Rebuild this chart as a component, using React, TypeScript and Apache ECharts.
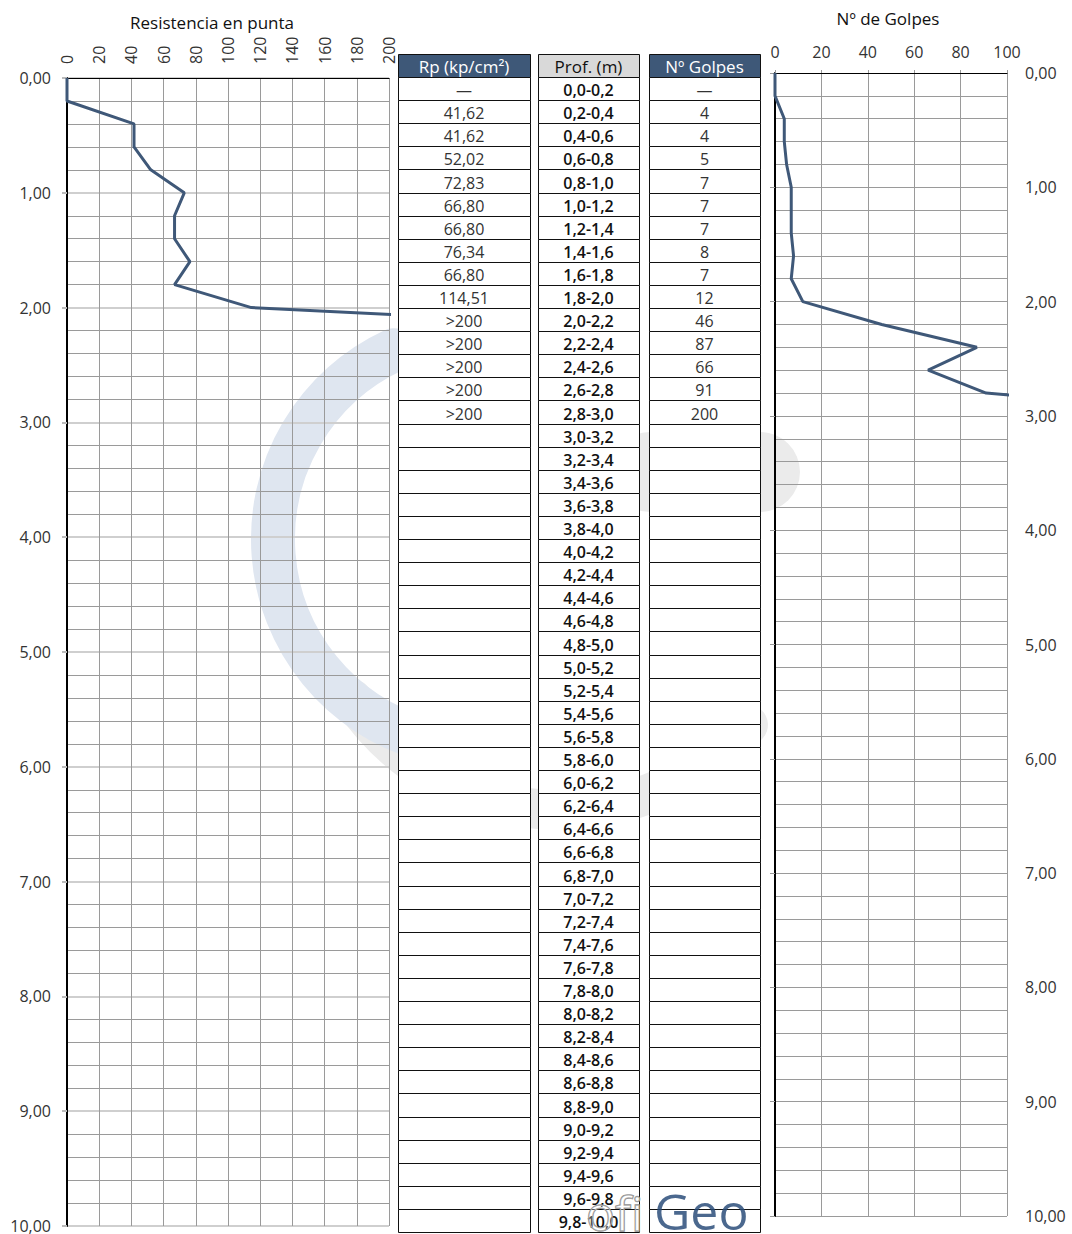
import React, { useEffect, useRef } from "react";
import * as echarts from "echarts";

// ---------- data ----------
const rpDepths = [0, 0.2, 0.4, 0.6, 0.8, 1.0, 1.2, 1.4, 1.6, 1.8, 2.0, 2.2];
const rpPlot = [0, 0, 41.62, 41.62, 52.02, 72.83, 66.8, 66.8, 76.34, 66.8, 114.51, 400];

const golpesDepths = [0, 0.2, 0.4, 0.6, 0.8, 1.0, 1.2, 1.4, 1.6, 1.8, 2.0, 2.2, 2.4, 2.6, 2.8, 3.0];
const golpesPlot = [0, 0, 4, 4, 5, 7, 7, 7, 8, 7, 12, 46, 87, 66, 91, 200];

const depthLabels = [
  "0,0-0,2", "0,2-0,4", "0,4-0,6", "0,6-0,8", "0,8-1,0",
  "1,0-1,2", "1,2-1,4", "1,4-1,6", "1,6-1,8", "1,8-2,0",
  "2,0-2,2", "2,2-2,4", "2,4-2,6", "2,6-2,8", "2,8-3,0",
  "3,0-3,2", "3,2-3,4", "3,4-3,6", "3,6-3,8", "3,8-4,0",
  "4,0-4,2", "4,2-4,4", "4,4-4,6", "4,6-4,8", "4,8-5,0",
  "5,0-5,2", "5,2-5,4", "5,4-5,6", "5,6-5,8", "5,8-6,0",
  "6,0-6,2", "6,2-6,4", "6,4-6,6", "6,6-6,8", "6,8-7,0",
  "7,0-7,2", "7,2-7,4", "7,4-7,6", "7,6-7,8", "7,8-8,0",
  "8,0-8,2", "8,2-8,4", "8,4-8,6", "8,6-8,8", "8,8-9,0",
  "9,0-9,2", "9,2-9,4", "9,4-9,6", "9,6-9,8", "9,8-10,0",
];
const rpTable = ["—", "41,62", "41,62", "52,02", "72,83", "66,80", "66,80", "76,34", "66,80", "114,51", ">200", ">200", ">200", ">200", ">200"];
const golpesTable = ["—", "4", "4", "5", "7", "7", "7", "8", "7", "12", "46", "87", "66", "91", "200"];

const rpTicks = { min: 0, max: 200, interval: 20 };
const golpesTicks = { min: 0, max: 100, interval: 20 };
const depthTicks = { min: 0, max: 10, interval: 1 };

const leftTitle = "Resistencia en punta";
const rightTitle = "Nº de Golpes";

// ---------- styling ----------
const FONT = "'Open Sans', 'Noto Sans', sans-serif";
const LINE_COLOR = "#3f5878";
const HEADER_BLUE = "#3e5878";

const fmtDepth = (v: number) => v.toFixed(2).replace(".", ",");

function buildTable(): any[] {
  const els: any[] = [];
  const headerTop = 54;
  const headerH = 23;
  const rowTop = 77;
  const rowH = 23.1;
  const cols = [
    { x: 398, w: 132, header: "Rp (kp/cm²)", bg: HEADER_BLUE, hc: "#fff", vals: rpTable, bold: false },
    { x: 538, w: 101, header: "Prof. (m)", bg: "#d9d9d9", hc: "#111", vals: depthLabels, bold: true },
    { x: 649, w: 111, header: "Nº Golpes", bg: HEADER_BLUE, hc: "#fff", vals: golpesTable, bold: false },
  ];
  cols.forEach((c) => {
    els.push({
      type: "rect",
      z: 100,
      shape: { x: c.x + 0.5, y: headerTop + 0.5, width: c.w, height: headerH },
      style: { fill: c.bg, stroke: "#111", lineWidth: 1 },
    });
    els.push({
      type: "text",
      z: 101,
      x: c.x + c.w / 2,
      y: headerTop + headerH / 2 + 1,
      style: {
        text: c.header,
        fill: c.hc,
        font: `500 17px ${FONT}`,
        align: "center",
        verticalAlign: "middle",
      },
    });
    for (let i = 0; i < depthLabels.length; i++) {
      const y = Math.round(rowTop + i * rowH) + 0.5;
      const y2 = Math.round(rowTop + (i + 1) * rowH) + 0.5;
      els.push({
        type: "rect",
        z: 100,
        shape: { x: c.x + 0.5, y, width: c.w, height: y2 - y },
        style: { fill: "#fff", stroke: "#111", lineWidth: 1 },
      });
      const t = c.vals[i];
      if (t) {
        els.push({
          type: "text",
          z: 101,
          x: c.x + c.w / 2,
          y: (y + y2) / 2 + 1,
          style: {
            text: t,
            fill: c.bold ? "#111" : "#333",
            font: `${c.bold ? 600 : 400} 16px ${FONT}`,
            align: "center",
            verticalAlign: "middle",
          },
        });
      }
    }
  });
  return els;
}

function buildWatermark(): any[] {
  return [
    {
      type: "arc",
      z: -6,
      shape: { cx: 560, cy: 560, r: 250, startAngle: 0.72, endAngle: 2.55, clockwise: true },
      style: { fill: "none", stroke: "#ebebeb", lineWidth: 40, lineCap: "round" },
    },
    {
      type: "line",
      z: -6,
      shape: { x1: 650, y1: 472, x2: 760, y2: 472 },
      style: { stroke: "#ebebeb", lineWidth: 80, lineCap: "round" },
    },
    {
      type: "arc",
      z: -5,
      shape: { cx: 481, cy: 539, r: 208, startAngle: 1.85, endAngle: 4.28, clockwise: true },
      style: { fill: "none", stroke: "#dfe6f0", lineWidth: 44, lineCap: "round" },
    },
  ];
}

function buildTitles(): any[] {
  return [
    {
      type: "text",
      z: 50,
      x: 212,
      y: 22,
      style: { text: leftTitle, fill: "#111", font: `500 17px ${FONT}`, align: "center", verticalAlign: "middle" },
    },
    {
      type: "text",
      z: 50,
      x: 888,
      y: 18,
      style: { text: rightTitle, fill: "#111", font: `500 17px ${FONT}`, align: "center", verticalAlign: "middle" },
    },
  ];
}

function buildLogo(): any[] {
  return [
    {
      type: "text",
      z: 200,
      x: 586,
      y: 1188,
      style: {
        text: "ofi",
        fill: "rgba(255,255,255,0.3)",
        stroke: "#8f8f8f",
        lineWidth: 1.3,
        font: `400 48px ${FONT}`,
        align: "left",
        verticalAlign: "top",
      },
    },
    {
      type: "text",
      z: 200,
      x: 654,
      y: 1186,
      style: {
        text: "Geo",
        fill: "rgba(44,78,122,0.85)",
        font: `400 50px ${FONT}`,
        align: "left",
        verticalAlign: "top",
      },
    },
  ];
}

export default function App() {
  const ref = useRef<HTMLDivElement>(null);
  useEffect(() => {
    if (!ref.current) return;
    const chart = echarts.init(ref.current, null, { renderer: "svg" });
    const labelStyle = { fontFamily: FONT, fontSize: 16, color: "#333" };
    const option: any = {
      animation: false,
      backgroundColor: "#fff",
      grid: [
        { left: 67, top: 78, width: 322, height: 1150, containLabel: false },
        { left: 775, top: 73, width: 232, height: 1143, containLabel: false },
      ],
      xAxis: [
        {
          gridIndex: 0,
          type: "value",
          position: "top",
          ...rpTicks,
          axisLine: { show: true, lineStyle: { color: "#000", width: 1 } },
          axisTick: { show: false },
          axisLabel: { ...labelStyle, rotate: 90, margin: 14 },
          splitLine: { show: true, lineStyle: { color: "#9a9a9a", width: 1 } },
        },
        {
          gridIndex: 1,
          type: "value",
          position: "top",
          ...golpesTicks,
          axisLine: { show: true, lineStyle: { color: "#000", width: 1 } },
          axisTick: { show: true, length: 3, lineStyle: { color: "#999" } },
          axisLabel: { ...labelStyle, margin: 13 },
          splitLine: { show: true, lineStyle: { color: "#9a9a9a", width: 1 } },
        },
      ],
      yAxis: [
        {
          gridIndex: 0,
          type: "value",
          inverse: true,
          ...depthTicks,
          axisLine: { show: true, lineStyle: { color: "#000", width: 2 } },
          axisTick: { show: true, length: 5, lineStyle: { color: "#bbb", width: 2 } },
          axisLabel: { ...labelStyle, margin: 16, formatter: fmtDepth },
          splitLine: { show: true, lineStyle: { color: "#cfcfcf", width: 2 } },
          minorTick: { show: false, splitNumber: 5 },
          minorSplitLine: { show: true, lineStyle: { color: "#9a9a9a", width: 1 } },
        },
        {
          gridIndex: 1,
          type: "value",
          inverse: true,
          ...depthTicks,
          axisLine: { show: true, lineStyle: { color: "#000", width: 2 } },
          axisTick: { show: true, length: 5, lineStyle: { color: "#999" } },
          axisLabel: { show: false },
          splitLine: { show: true, lineStyle: { color: "#9a9a9a", width: 1 } },
          minorTick: { show: false, splitNumber: 5 },
          minorSplitLine: { show: true, lineStyle: { color: "#9a9a9a", width: 1 } },
        },
        {
          gridIndex: 1,
          type: "value",
          position: "right",
          inverse: true,
          ...depthTicks,
          axisLine: { show: false },
          axisTick: { show: false },
          axisLabel: { ...labelStyle, margin: 18, formatter: fmtDepth },
          splitLine: { show: false },
        },
      ],
      series: [
        {
          type: "line",
          xAxisIndex: 0,
          yAxisIndex: 0,
          data: rpDepths.map((d, i) => [rpPlot[i], d]),
          symbol: "none",
          clip: true,
          lineStyle: { color: LINE_COLOR, width: 3 },
          z: 5,
        },
        {
          type: "line",
          xAxisIndex: 1,
          yAxisIndex: 1,
          data: golpesDepths.map((d, i) => [golpesPlot[i], d]),
          symbol: "none",
          clip: true,
          lineStyle: { color: LINE_COLOR, width: 3 },
          z: 5,
        },
      ],
      graphic: [...buildWatermark(), ...buildTitles(), ...buildTable(), ...buildLogo()],
    };
    chart.setOption(option);
    return () => chart.dispose();
  }, []);
  return (
    <div
      ref={ref}
      style={{ position: "absolute", left: 0, top: 0, width: 1072, height: 1234, background: "#fff" }}
    />
  );
}
